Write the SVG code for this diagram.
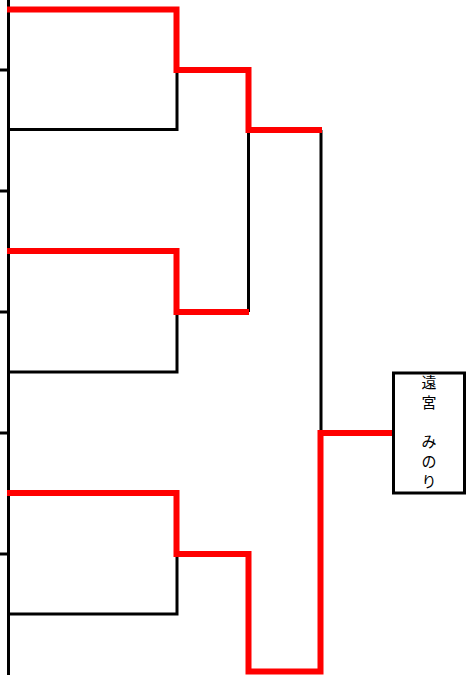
<svg xmlns="http://www.w3.org/2000/svg" width="470" height="675" viewBox="0 0 470 675">
<style>
.b{fill:none;stroke:#000;stroke-width:3}
.r{fill:none;stroke:#f00;stroke-width:6;stroke-linejoin:miter;stroke-linecap:butt}
.t{font-family:"Noto Sans CJK JP","Noto Sans",sans-serif;font-size:15px;fill:#000;text-anchor:middle}
</style>
<rect width="470" height="675" fill="#fff"/>
<g id="connectors">
<line class="b" x1="8.5" y1="0" x2="8.5" y2="675"/>
<line class="b" x1="0" y1="70" x2="8" y2="70"/>
<line class="b" x1="0" y1="191" x2="8" y2="191"/>
<line class="b" x1="0" y1="312" x2="8" y2="312"/>
<line class="b" x1="0" y1="433" x2="8" y2="433"/>
<line class="b" x1="0" y1="554" x2="8" y2="554"/>
<polyline class="b" points="8,129.5 177,129.5 177,70"/>
<polyline class="b" points="8,372 177,372 177,312"/>
<polyline class="b" points="8,614 177,614 177,554"/>
<polyline class="b" points="248.5,130 248.5,312"/>
<polyline class="b" points="321,130 321,433"/>
<polyline class="r" points="7,9.5 176.5,9.5 176.5,70 248.5,70 248.5,130 322,130"/>
<polyline class="r" points="7,251 176.5,251 176.5,312 249,312"/>
<polyline class="r" points="7,493 176.5,493 176.5,554 248.5,554 248.5,671.5 320.5,671.5 320.5,433 393,433"/>
</g>
<g id="winner">
<rect x="393.5" y="373" width="71" height="120" fill="#fff" stroke="#000" stroke-width="3"/>
<text class="t"><tspan x="429" y="388">遠</tspan><tspan x="429" y="408">宮</tspan><tspan x="429" y="447">み</tspan><tspan x="429" y="467">の</tspan><tspan x="429" y="487">り</tspan></text>
</g>
</svg>
